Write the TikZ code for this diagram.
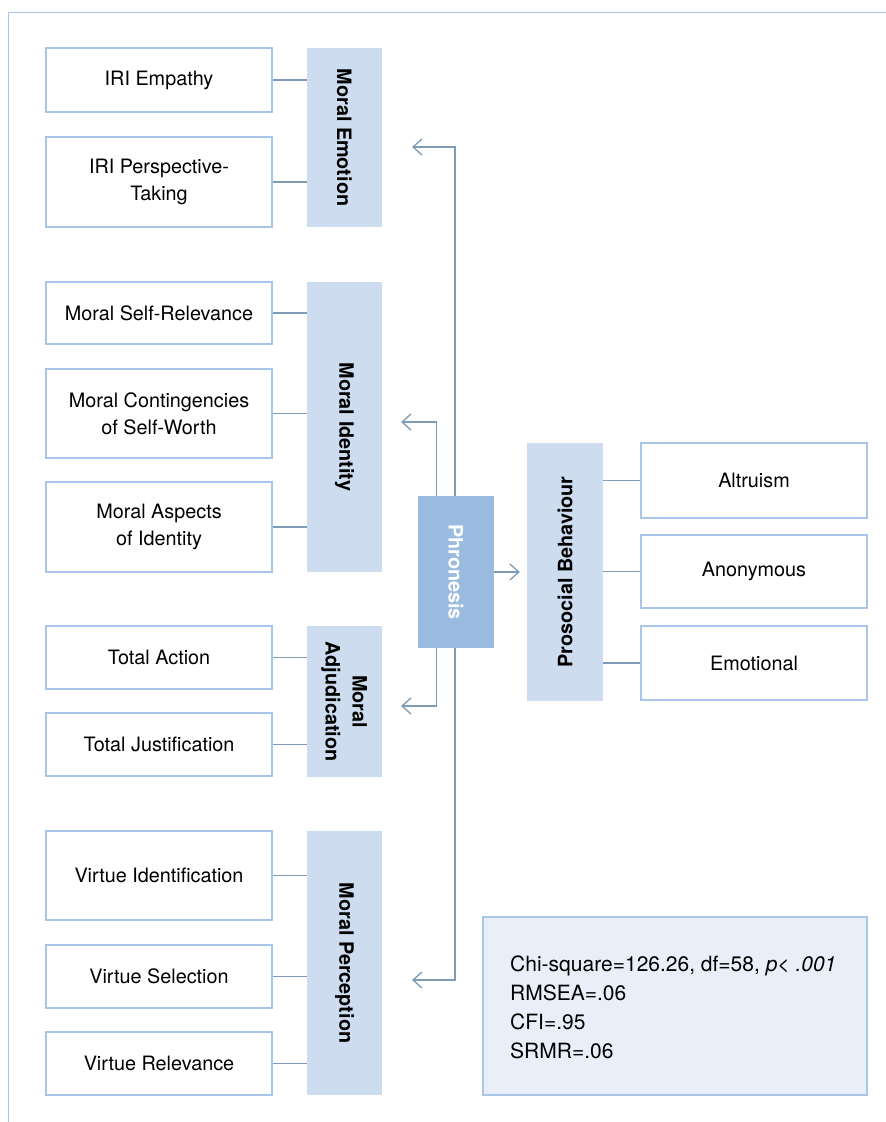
\documentclass[tikz,border=0pt]{standalone}
\usepackage{fontspec}
\setmainfont{TeX Gyre Heros}
\usetikzlibrary{arrows.meta}
\definecolor{bordc}{HTML}{A9C6E8}
\definecolor{latc}{HTML}{CDDCEE}
\definecolor{phrc}{HTML}{9ABBDF}
\definecolor{statc}{HTML}{E9EFF8}
\definecolor{linec}{HTML}{7D9BB5}
\newcommand\dgfs{\fontsize{19.8}{27}\selectfont}
\begin{document}
\begin{tikzpicture}[x=1pt,y=-1pt,
  obs/.style={draw=bordc,line width=1.3pt,fill=white,minimum width=226pt,inner sep=0pt,align=center,font=\dgfs},
  lat/.style={fill=latc,minimum width=75pt,inner sep=0pt,align=center,font=\dgfs\bfseries},
  conn/.style={draw=linec,line width=1.3pt},
  arr/.style={conn,-{Straight Barb[length=9pt,width=16pt]}}]
\useasboundingbox (0,0) rectangle (886,1122);
\draw[draw=bordc,line width=1.2pt] (886,12.5) -- (8.5,12.5) -- (8.5,1122);

% observed, left
\node[obs,minimum height=64pt] (emp) at (159,80) {IRI Empathy};
\node[obs,minimum height=90pt] (persp) at (159,182) {IRI Perspective-\\Taking};
\node[obs,minimum height=62pt] (selfrel) at (159,313) {Moral Self-Relevance};
\node[obs,minimum height=89pt] (cont) at (159,413.5) {Moral Contingencies\\of Self-Worth};
\node[obs,minimum height=90pt] (asp) at (159,527) {Moral Aspects\\of Identity};
\node[obs,minimum height=63pt] (act) at (159,657.5) {Total Action};
\node[obs,minimum height=63pt] (just) at (159,744.5) {Total Justification};
\node[obs,minimum height=89pt] (vid) at (159,875.5) {Virtue Identification};
\node[obs,minimum height=63pt] (vsel) at (159,976.5) {Virtue Selection};
\node[obs,minimum height=63pt] (vrel) at (159,1063.5) {Virtue Relevance};

% latent
\node[lat,minimum height=179pt] (emo) at (344.5,137.5) {\rotatebox{-90}{Moral Emotion}};
\node[lat,minimum height=290pt] (ident) at (344.5,427) {\rotatebox{-90}{Moral Identity}};
\node[lat,minimum height=151pt] (adj) at (344.5,701.5) {\rotatebox{-90}{\begin{tabular}{@{}c@{}}Moral\\Adjudication\end{tabular}}};
\node[lat,minimum height=264pt] (perc) at (344.5,963) {\rotatebox{-90}{Moral Perception}};
\node[lat,fill=phrc,text=white,minimum width=76pt,minimum height=152pt] (phr) at (456,572) {\rotatebox{-90}{Phronesis}};
\node[lat,minimum width=76pt,minimum height=258pt] (pro) at (565,572) {\rotatebox{90}{Prosocial Behaviour}};

% observed, right
\node[obs,minimum height=75pt] (alt) at (754,480.5) {Altruism};
\node[obs,minimum height=73pt] (anon) at (754,571.5) {Anonymous};
\node[obs,minimum height=74pt] (emot) at (754,663) {Emotional};

% stats
\node[draw=bordc,line width=1.3pt,fill=statc,minimum width=384pt,minimum height=178pt] (stats) at (675,1006) {};
\node[anchor=west,align=left,inner sep=0pt,font=\fontsize{21}{29}\selectfont] (statstxt) at (510,1007)
  {Chi-square=126.26, df=58, \textit{p}< \textit{.001}\\RMSEA=.06\\CFI=.95\\SRMR=.06};

% indicator connectors
\foreach \b/\l in {emp/emo,persp/emo,selfrel/ident,cont/ident,asp/ident,act/adj,just/adj,vid/perc,vsel/perc,vrel/perc}
  \draw[conn] (\b.east) -- (\b.east -| \l.west);
\foreach \b in {alt,anon,emot}
  \draw[conn] (\b.west -| pro.east) -- (\b.west);

% structural arrows
\coordinate (tEmo) at (412,147);
\coordinate (tId) at (401,422);
\coordinate (tAdj) at (401,706);
\coordinate (tPerc) at (412,980);
\draw[arr] ([xshift=-1pt]phr.north) |- (tEmo);
\draw[arr] ([xshift=19pt]phr.north west) |- (tId);
\draw[arr] ([xshift=19pt]phr.south west) |- (tAdj);
\draw[arr] ([xshift=-1pt]phr.south) |- (tPerc);
\draw[arr,shorten >=7pt] (phr.east) -- (pro.west);
\end{tikzpicture}
\end{document}
